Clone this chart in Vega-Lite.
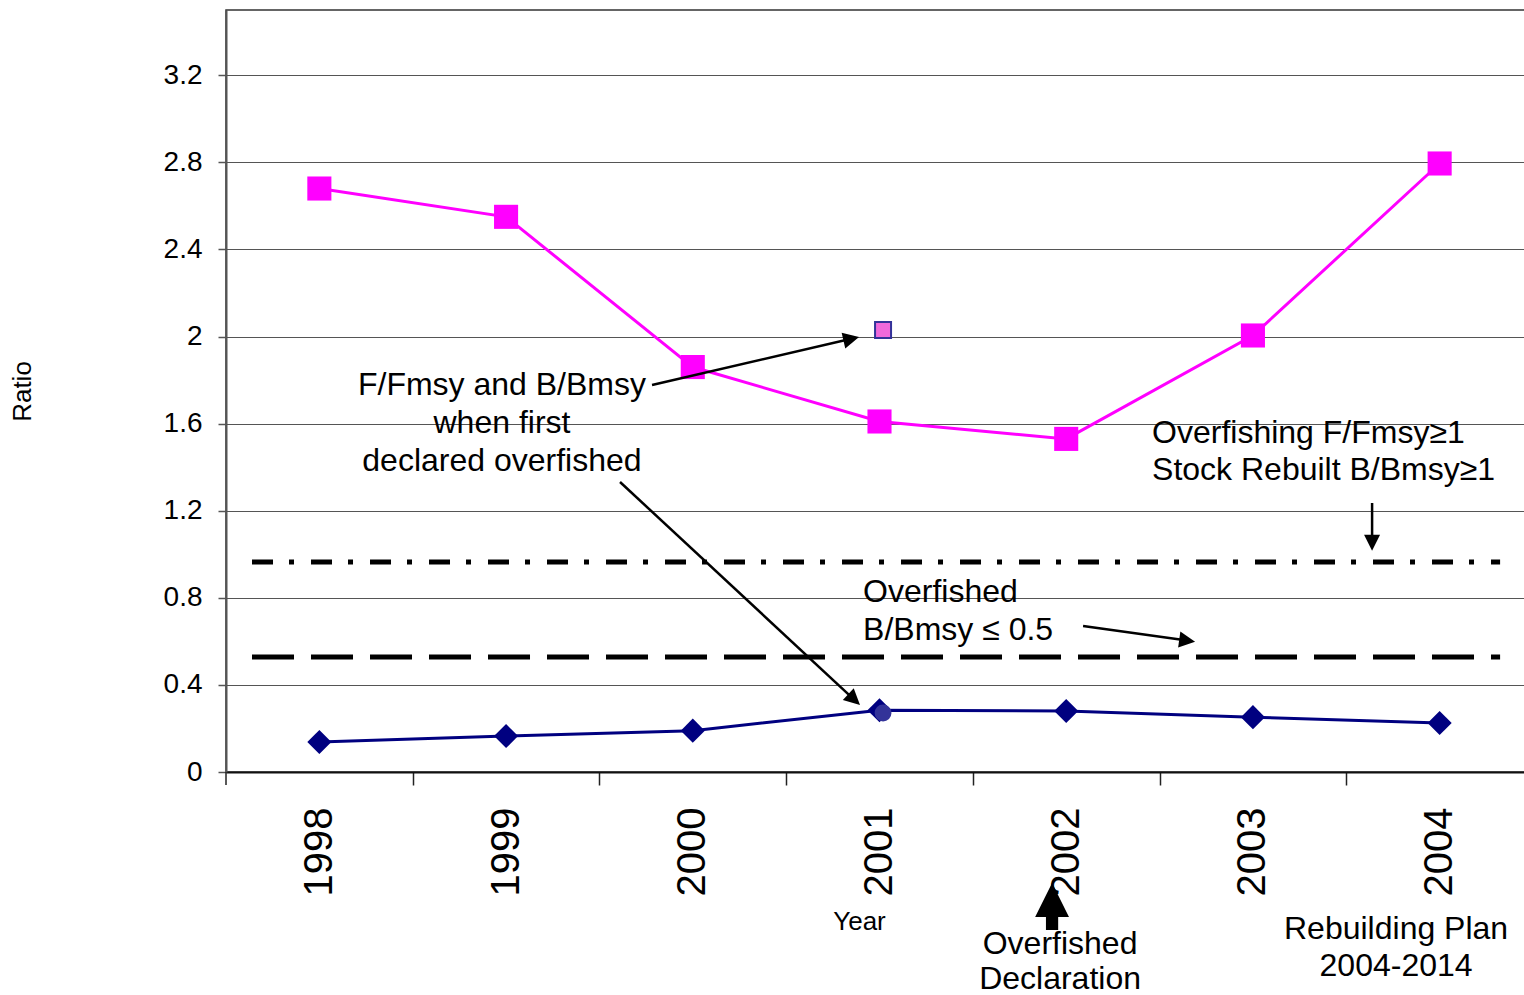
{
  "$schema": "https://vega.github.io/schema/vega-lite/v6.json",
  "width": 1307,
  "height": 762,
  "autosize": "none",
  "padding": {"left": 226, "top": 10, "right": 0, "bottom": 223},
  "background": "white",
  "config": {"font": "Liberation Sans", "view": {"stroke": "#333", "strokeWidth": 1.5}},
  "datasets": {
    "series": [
      {"x": 1998, "y": 2.68, "series": "F/Fmsy"},
      {"x": 1999, "y": 2.55, "series": "F/Fmsy"},
      {"x": 2000, "y": 1.86, "series": "F/Fmsy"},
      {"x": 2001, "y": 1.61, "series": "F/Fmsy"},
      {"x": 2002, "y": 1.53, "series": "F/Fmsy"},
      {"x": 2003, "y": 2.005, "series": "F/Fmsy"},
      {"x": 2004, "y": 2.795, "series": "F/Fmsy"},
      {"x": 1998, "y": 0.138, "series": "B/Bmsy"},
      {"x": 1999, "y": 0.165, "series": "B/Bmsy"},
      {"x": 2000, "y": 0.19, "series": "B/Bmsy"},
      {"x": 2001, "y": 0.284, "series": "B/Bmsy"},
      {"x": 2002, "y": 0.28, "series": "B/Bmsy"},
      {"x": 2003, "y": 0.252, "series": "B/Bmsy"},
      {"x": 2004, "y": 0.225, "series": "B/Bmsy"}
    ],
    "first": [
      {"x": 2001.019, "y": 2.03, "kind": "F/Fmsy"},
      {"x": 2001.019, "y": 0.271, "kind": "B/Bmsy"}
    ],
    "refs": [
      {"x": 1997.6393, "x2": 2004.3238, "y": 0.9646, "kind": "overfishing"},
      {"x": 1997.6393, "x2": 2004.3238, "y": 0.528, "kind": "overfished"}
    ],
    "edgeTick": [
      {"x": 1997.5, "y": 0, "y2": -0.0597}
    ],
    "arrows": [
      {"x": 1999.7817, "y": 1.7776, "x2": 2000.8487, "y2": 1.9898, "angle": 76.95},
      {"x": 1999.6103, "y": 1.332, "x2": 2000.8642, "y2": 0.3328, "angle": 132.9},
      {"x": 2003.6382, "y": 1.2356, "x2": 2003.6382, "y2": 1.0532, "angle": 180},
      {"x": 2002.0903, "y": 0.6706, "x2": 2002.6478, "y2": 0.6036, "angle": 97.98}
    ],
    "bigarrow": [
      {"x": 2001.9242, "y": -0.6178}
    ],
    "textLeft": [
      {"x": 2002.4598, "y": 1.557, "text": "Overfishing F/Fmsy≥1"},
      {"x": 2002.4598, "y": 1.387, "text": "Stock Rebuilt B/Bmsy≥1"},
      {"x": 2000.9119, "y": 0.8268, "text": "Overfished"},
      {"x": 2000.9119, "y": 0.6522, "text": "B/Bmsy ≤ 0.5"}
    ],
    "textCenter": [
      {"x": 1998.978, "y": 1.7776, "text": "F/Fmsy and B/Bmsy"},
      {"x": 1998.978, "y": 1.603, "text": "when first"},
      {"x": 1998.978, "y": 1.4285, "text": "declared overfished"},
      {"x": 2001.9671, "y": -0.79, "text": "Overfished"},
      {"x": 2001.9671, "y": -0.951, "text": "Declaration"},
      {"x": 2003.7667, "y": -0.7211, "text": "Rebuilding Plan"},
      {"x": 2003.7667, "y": -0.891, "text": "2004-2014"}
    ]
  },
  "layer": [
    {
      "data": {"name": "refs"},
      "mark": {"type": "rule", "strokeWidth": 5, "color": "black", "strokeCap": "butt"},
      "encoding": {
        "x": {
          "field": "x", "type": "quantitative",
          "scale": {"domain": [1997.5, 2004.5], "nice": false, "zero": false},
          "axis": {
            "values": [1998, 1999, 2000, 2001, 2002, 2003, 2004],
            "format": "d",
            "labelAngle": -90,
            "labelFontSize": 40,
            "labelColor": "black",
            "labelPadding": 22,
            "labelOverlap": false,
            "labelBound": false,
            "labelFlush": false,
            "tickOffset": 93.35,
            "labelOffset": -93.35,
            "tickSize": 13,
            "tickWidth": 1.5,
            "tickColor": "#222",
            "domainColor": "#111",
            "domainWidth": 2,
            "grid": false,
            "title": "Year",
            "titleFontSize": 26,
            "titleFontWeight": "normal",
            "titleColor": "black",
            "titleX": 633,
            "titleY": 136,
            "titleBaseline": "top"
          }
        },
        "x2": {"field": "x2"},
        "y": {
          "field": "y", "type": "quantitative",
          "scale": {"domain": [0, 3.5], "nice": false, "zero": false},
          "axis": {
            "values": [0, 0.4, 0.8, 1.2, 1.6, 2, 2.4, 2.8, 3.2],
            "format": "~g",
            "labelFontSize": 28,
            "labelColor": "black",
            "labelPadding": 16,
            "tickSize": 8,
            "tickColor": "#555",
            "tickWidth": 1.5,
            "domainColor": "#555",
            "domainWidth": 2,
            "grid": true,
            "gridColor": "#555",
            "gridWidth": 1.2,
            "title": "Ratio",
            "titleFontSize": 26,
            "titleFontWeight": "normal",
            "titleColor": "black",
            "titlePadding": 128
          }
        },
        "strokeDash": {
          "field": "kind", "type": "nominal",
          "scale": {"domain": ["overfishing", "overfished"], "range": [[21, 16, 5, 17], [42, 17]]},
          "legend": null
        }
      }
    },
    {
      "data": {"name": "edgeTick"},
      "mark": {"type": "rule", "strokeWidth": 1.5, "color": "#222"},
      "encoding": {
        "x": {"field": "x", "type": "quantitative"},
        "y": {"field": "y", "type": "quantitative"},
        "y2": {"field": "y2"}
      }
    },
    {
      "data": {"name": "series"},
      "mark": {"type": "line", "strokeWidth": 3},
      "encoding": {
        "x": {"field": "x", "type": "quantitative"},
        "y": {"field": "y", "type": "quantitative"},
        "color": {
          "field": "series", "type": "nominal",
          "scale": {"domain": ["F/Fmsy", "B/Bmsy"], "range": ["#FF00FF", "#000080"]},
          "legend": null
        }
      }
    },
    {
      "data": {"name": "series"},
      "mark": {"type": "point", "filled": true, "opacity": 1, "size": 580},
      "encoding": {
        "x": {"field": "x", "type": "quantitative"},
        "y": {"field": "y", "type": "quantitative"},
        "color": {
          "field": "series", "type": "nominal",
          "scale": {"domain": ["F/Fmsy", "B/Bmsy"], "range": ["#FF00FF", "#000080"]},
          "legend": null
        },
        "shape": {
          "field": "series", "type": "nominal",
          "scale": {"domain": ["F/Fmsy", "B/Bmsy"], "range": ["square", "diamond"]},
          "legend": null
        }
      }
    },
    {
      "data": {"name": "first"},
      "transform": [{"filter": "datum.kind === 'F/Fmsy'"}],
      "mark": {"type": "point", "shape": "square", "filled": true, "fill": "#F06ADB", "stroke": "#333399", "strokeWidth": 2, "opacity": 1, "size": 256},
      "encoding": {
        "x": {"field": "x", "type": "quantitative"},
        "y": {"field": "y", "type": "quantitative"}
      }
    },
    {
      "data": {"name": "first"},
      "transform": [{"filter": "datum.kind === 'B/Bmsy'"}],
      "mark": {"type": "point", "shape": "circle", "filled": true, "fill": "#333399", "opacity": 1, "size": 284},
      "encoding": {
        "x": {"field": "x", "type": "quantitative"},
        "y": {"field": "y", "type": "quantitative"}
      }
    },
    {
      "data": {"name": "arrows"},
      "mark": {"type": "rule", "strokeWidth": 2.5, "color": "black"},
      "encoding": {
        "x": {"field": "x", "type": "quantitative"},
        "y": {"field": "y", "type": "quantitative"},
        "x2": {"field": "x2"},
        "y2": {"field": "y2"}
      }
    },
    {
      "data": {"name": "arrows"},
      "mark": {"type": "point", "shape": "M0,-1L1,1L-1,1Z", "filled": true, "color": "black", "opacity": 1, "size": 256},
      "encoding": {
        "x": {"field": "x2", "type": "quantitative"},
        "y": {"field": "y2", "type": "quantitative"},
        "angle": {"field": "angle", "type": "quantitative", "scale": null}
      }
    },
    {
      "data": {"name": "bigarrow"},
      "mark": {"type": "point", "shape": "M0,-1L0.72,0.45L0.26,0.45L0.26,1L-0.26,1L-0.26,0.45L-0.72,0.45Z", "filled": true, "color": "black", "opacity": 1, "size": 2209},
      "encoding": {
        "x": {"field": "x", "type": "quantitative"},
        "y": {"field": "y", "type": "quantitative"}
      }
    },
    {
      "data": {"name": "textLeft"},
      "mark": {"type": "text", "align": "left", "baseline": "middle", "fontSize": 32, "color": "black"},
      "encoding": {
        "x": {"field": "x", "type": "quantitative"},
        "y": {"field": "y", "type": "quantitative"},
        "text": {"field": "text"}
      }
    },
    {
      "data": {"name": "textCenter"},
      "mark": {"type": "text", "align": "center", "baseline": "middle", "fontSize": 32, "color": "black"},
      "encoding": {
        "x": {"field": "x", "type": "quantitative"},
        "y": {"field": "y", "type": "quantitative"},
        "text": {"field": "text"}
      }
    }
  ]
}
